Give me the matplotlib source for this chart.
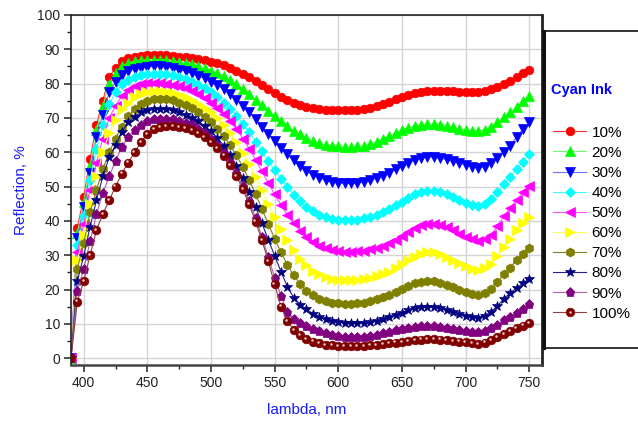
import numpy as np
import matplotlib
matplotlib.use('Agg')
from matplotlib import pyplot as plt
from matplotlib.ticker import MultipleLocator
from matplotlib.transforms import offset_copy
from matplotlib.legend_handler import HandlerTuple
from matplotlib.patches import Rectangle
from matplotlib.lines import Line2D

plt.rcParams['font.family'] = ['Liberation Sans', 'DejaVu Sans']

# wavelength grid, nm
wl = [390, 395, 400, 405, 410, 415, 420, 425, 430, 435, 440, 445, 450, 455, 460,
      465, 470, 475, 480, 485, 490, 495, 500, 505, 510, 515, 520, 525, 530, 535,
      540, 545, 550, 555, 560, 565, 570, 575, 580, 585, 590, 595, 600, 605, 610,
      615, 620, 625, 630, 635, 640, 645, 650, 655, 660, 665, 670, 675, 680, 685,
      690, 695, 700, 705, 710, 715, 720, 725, 730, 735, 740, 745, 750]

# reflection, %
r10 = [0, 38, 47, 58, 68, 75, 82, 84.5, 86.5, 87.4, 87.8, 88.0, 88.2, 88.3, 88.3,
       88.2, 88.1, 87.9, 87.7, 87.5, 87.2, 86.8, 86.4, 85.9, 85.3, 84.6, 83.8, 82.9, 81.9, 80.8,
       79.7, 78.5, 77.3, 76.2, 75.2, 74.4, 73.7, 73.2, 72.8, 72.5, 72.4, 72.3, 72.3, 72.3, 72.3,
       72.4, 72.6, 72.9, 73.4, 74.0, 74.7, 75.5, 76.2, 76.8, 77.3, 77.6, 77.8, 77.9, 77.9, 77.9,
       77.8, 77.7, 77.6, 77.5, 77.5, 77.8, 78.3, 79.0, 79.9, 80.9, 81.9, 83.0, 84.0]
r20 = [0, 36.5, 45.5, 56, 66.5, 73.5, 80, 83, 85, 86, 86.5, 86.8, 86.9, 87.0, 86.9,
       86.8, 86.6, 86.3, 86.0, 85.6, 85.1, 84.5, 83.8, 83.0, 82.1, 81.0, 79.8, 78.4, 76.9, 75.3,
       73.7, 72.1, 70.5, 69.0, 67.6, 66.3, 65.2, 64.2, 63.4, 62.7, 62.2, 61.9, 61.7, 61.6, 61.6,
       61.7, 61.9, 62.4, 63.0, 63.8, 64.7, 65.6, 66.4, 67.1, 67.6, 68.0, 68.2, 68.2, 68.0, 67.7,
       67.3, 66.9, 66.6, 66.3, 66.2, 66.6, 67.5, 68.8, 70.3, 71.8, 73.3, 74.9, 76.5]
r30 = [0, 35, 44, 54, 64.5, 71, 77.5, 80.5, 82.5, 83.6, 84.3, 84.7, 84.9, 85.0, 85.0,
       84.8, 84.5, 84.1, 83.6, 83.0, 82.3, 81.5, 80.6, 79.5, 78.3, 76.9, 75.3, 73.5, 71.6, 69.6,
       67.5, 65.4, 63.3, 61.3, 59.4, 57.6, 56.0, 54.6, 53.4, 52.5, 51.8, 51.3, 51.0, 50.9, 50.9,
       51.0, 51.3, 51.8, 52.4, 53.2, 54.1, 55.0, 56.0, 57.0, 57.8, 58.4, 58.6, 58.6, 58.3, 57.9,
       57.4, 56.8, 56.3, 55.8, 55.4, 55.8, 56.8, 58.4, 60.0, 61.8, 64.5, 66.8, 68.7]
r40 = [0, 33, 41.5, 52, 61, 68, 74, 77.5, 79.8, 81.2, 82.0, 82.5, 82.8, 82.9, 82.9,
       82.7, 82.4, 81.9, 81.3, 80.6, 79.7, 78.7, 77.5, 76.1, 74.5, 72.7, 70.6, 68.3, 65.8, 63.1,
       60.3, 57.5, 54.8, 52.2, 49.8, 47.6, 45.7, 44.1, 42.8, 41.8, 41.1, 40.6, 40.4, 40.3, 40.3,
       40.4, 40.7, 41.2, 41.8, 42.6, 43.5, 44.5, 45.6, 46.7, 47.7, 48.4, 48.8, 48.8, 48.4, 47.8,
       47.0, 46.1, 45.3, 44.6, 44.3, 44.9, 46.3, 48.3, 50.7, 52.9, 55.0, 57.3, 59.5]
r50 = [0, 31, 39, 49, 57, 64, 70, 73.5, 76.5, 78.2, 79.2, 79.8, 80.1, 80.2, 80.2,
       80.0, 79.7, 79.2, 78.6, 77.8, 76.9, 75.8, 74.5, 73.0, 71.2, 69.1, 66.7, 64.0, 61.0, 57.8,
       54.4, 51.0, 47.7, 44.6, 41.8, 39.3, 37.1, 35.3, 33.9, 32.8, 32.0, 31.4, 31.1, 31.0, 31.0,
       31.1, 31.3, 31.7, 32.1, 32.7, 33.5, 34.5, 35.6, 36.8, 37.9, 38.8, 39.2, 39.2, 38.8, 38.1,
       37.2, 36.3, 35.4, 34.6, 34.1, 34.7, 36.0, 38.4, 41.3, 43.8, 46.0, 48.3, 50.3]
r60 = [0, 28.5, 36, 45, 53, 60, 65.5, 69.5, 72.5, 74.5, 76.0, 77.0, 77.5, 77.8, 77.8,
       77.6, 77.2, 76.7, 76.0, 75.2, 74.2, 73.0, 71.6, 69.9, 67.9, 65.6, 62.9, 59.9, 56.5, 52.8,
       48.9, 45.0, 41.2, 37.6, 34.3, 31.4, 29.0, 27.0, 25.5, 24.4, 23.6, 23.1, 22.9, 22.8, 22.8,
       22.9, 23.1, 23.4, 23.8, 24.4, 25.2, 26.2, 27.3, 28.5, 29.6, 30.4, 30.8, 30.8, 30.4, 29.6,
       28.7, 27.7, 26.8, 26.0, 25.6, 26.2, 27.5, 29.8, 32.4, 34.8, 37.2, 39.3, 41.0]
r70 = [0, 26, 33.5, 42.5, 49, 55, 60, 64, 67.5, 70.5, 72.5, 74.0, 75.0, 75.5, 75.6,
       75.5, 75.1, 74.5, 73.7, 72.8, 71.7, 70.4, 68.8, 66.9, 64.7, 62.1, 59.1, 55.7, 51.9, 47.8,
       43.5, 39.1, 34.8, 30.8, 27.2, 24.1, 21.6, 19.7, 18.3, 17.3, 16.6, 16.2, 16.0, 15.9, 15.9,
       16.0, 16.2, 16.6, 17.1, 17.7, 18.5, 19.3, 20.2, 21.1, 21.8, 22.3, 22.5, 22.4, 22.0, 21.4,
       20.7, 20.0, 19.3, 18.7, 18.3, 18.9, 20.1, 22.1, 24.4, 26.4, 28.5, 30.4, 32.2]
r80 = [0, 22.5, 29.8, 38.3, 46, 53, 58.5, 62, 66, 68.7, 70.4, 71.6, 72.2, 72.5, 72.6,
       72.5, 72.2, 71.7, 71.0, 70.1, 69.0, 67.7, 66.1, 64.2, 61.9, 59.2, 56.0, 52.4, 48.4, 44.0,
       39.3, 34.5, 29.8, 25.2, 20.8, 17.6, 15.6, 14.2, 13.0, 12.0, 11.3, 10.8, 10.5, 10.3, 10.2,
       10.2, 10.3, 10.5, 10.8, 11.3, 11.9, 12.6, 13.3, 14.0, 14.5, 14.8, 15.0, 14.9, 14.6, 14.1,
       13.5, 12.9, 12.4, 12.0, 11.8, 12.4, 13.5, 15.2, 17.3, 19.0, 20.4, 21.8, 23.2]
r90 = [0, 19.6, 26, 34, 42, 48, 53, 57.5, 61.5, 64.5, 66.5, 68.0, 69.0, 69.6, 69.8,
       69.8, 69.6, 69.2, 68.6, 67.8, 66.8, 65.5, 64.0, 62.1, 59.8, 57.1, 53.9, 50.2, 45.8, 40.8,
       35.3, 29.5, 23.5, 18.0, 13.5, 11.5, 10.3, 9.4, 8.6, 7.9, 7.3, 6.8, 6.5, 6.3, 6.2,
       6.2, 6.3, 6.5, 6.8, 7.2, 7.6, 8.1, 8.5, 8.9, 9.2, 9.4, 9.5, 9.4, 9.2, 8.9,
       8.5, 8.1, 7.8, 7.6, 7.5, 7.9, 8.7, 9.8, 11.0, 12.1, 13.2, 14.4, 15.7]
r100 = [0, 16.5, 22.5, 30, 37.3, 42, 46, 50, 53.8, 57, 60, 63, 65.3, 66.7, 67.3,
        67.6, 67.6, 67.4, 67.0, 66.4, 65.5, 64.4, 63.0, 61.2, 59.0, 56.3, 53.0, 49.2, 44.8, 39.8,
        34.3, 28.3, 21.5, 15.0, 10.8, 8.2, 6.6, 5.5, 4.8, 4.3, 3.9, 3.7, 3.6, 3.5, 3.5,
        3.5, 3.6, 3.7, 3.9, 4.1, 4.3, 4.5, 4.7, 5.0, 5.2, 5.4, 5.5, 5.5, 5.4, 5.2,
        5.0, 4.8, 4.6, 4.3, 4.1, 4.5, 5.3, 6.2, 7.0, 7.8, 8.7, 9.5, 10.2]

labels = ['10%', '20%', '30%', '40%', '50%', '60%', '70%', '80%', '90%', '100%']
series = [r10, r20, r30, r40, r50, r60, r70, r80, r90, r100]
mcolors = ['#ff0000', '#00ff00', '#0000ff', '#00ffff', '#ff00ff',
           '#ffff00', '#808000', '#000080', '#800080', '#800000']
lcolors = ['#ff3030', '#70ff70', '#7070ff', '#40ffff', '#ff50ff',
           '#ffff60', '#808020', '#202090', '#b060b0', '#904040']
markers = ['o', '^', 'v', 'D', '<', '>', 'h', '*', 'p', 'o']
msizes = [6.2, 6.5, 6.5, 5.0, 6.5, 6.5, 6.5, 7.5, 6.8, 6.2]

fig = plt.figure(figsize=(6.38, 4.26), dpi=100)
ax = fig.add_axes([71/638, 1-365/426, (542-71)/638, (365-15)/426])

handles = []
for y, lab, mc, lc, mk, ms in zip(series, labels, mcolors, lcolors, markers, msizes):
    h, = ax.plot(wl, y, color=lc, lw=0.8, marker=mk, ms=ms,
                 mfc=mc, mec=mc, mew=0.5, label=lab)
    handles.append(h)

# glossy highlight on the 100% spheres
ax.plot(wl, r100, ls='none', marker='o', ms=1.8, mfc='#f0c8c8', mec='none',
        transform=offset_copy(ax.transData, fig, x=-1.2, y=1.2, units='dots'))
hl_leg = Line2D([], [], ls='none', marker='o', ms=1.8, mfc='#f0c8c8', mec='none')
handles[-1] = (handles[-1], hl_leg)

ax.set_xlim(390, 760)
ax.set_ylim(-2, 100)
ax.xaxis.set_major_locator(MultipleLocator(50))
ax.xaxis.set_minor_locator(MultipleLocator(25))
ax.yaxis.set_major_locator(MultipleLocator(10))
ax.yaxis.set_minor_locator(MultipleLocator(5))
ax.grid(True, which='major', color='#d4d4d4', lw=1.0)
ax.set_axisbelow(True)
ax.tick_params(which='major', direction='out', length=5, width=1.1,
               labelsize=10, colors='#222222', pad=3)
ax.tick_params(which='minor', direction='out', length=3, width=1.0, colors='#222222')
for s in ['left', 'top', 'right']:
    ax.spines[s].set_linewidth(1.2)
    ax.spines[s].set_color('#222222')
ax.spines['bottom'].set_linewidth(1.8)
ax.spines['bottom'].set_color('#444444')
ax.spines['right'].set_linewidth(2.0)

ax.set_xlabel('lambda, nm', color='#1a1aff', fontsize=11, labelpad=9)
ax.set_ylabel('Reflection, %', color='#1a1aff', fontsize=11, labelpad=6)

# legend panel
box = Rectangle((543/638, 1-348/426), 100/638, (348-31)/426, transform=fig.transFigure,
                fill=True, facecolor='white', edgecolor='#111111', lw=1.2, zorder=0)
fig.patches.append(box)
fig.add_artist(Line2D([544/638, 544/638], [1-348/426, 1-31/426], transform=fig.transFigure,
                      color='#111111', lw=2.2))
fig.text(551/638, 1-90/426, 'Cyan Ink', color='#0000ff', fontsize=10.5,
         fontweight='bold', va='center', ha='left')
leg = fig.legend(handles, labels, loc='upper left', bbox_to_anchor=(542/638, 1-115/426),
                 frameon=False, fontsize=11, handlelength=2.2, handletextpad=0.35,
                 labelspacing=0.40, borderpad=0.2,
                 handler_map={tuple: HandlerTuple(ndivide=1, pad=0)})

fig.savefig('out.png', dpi=100)
